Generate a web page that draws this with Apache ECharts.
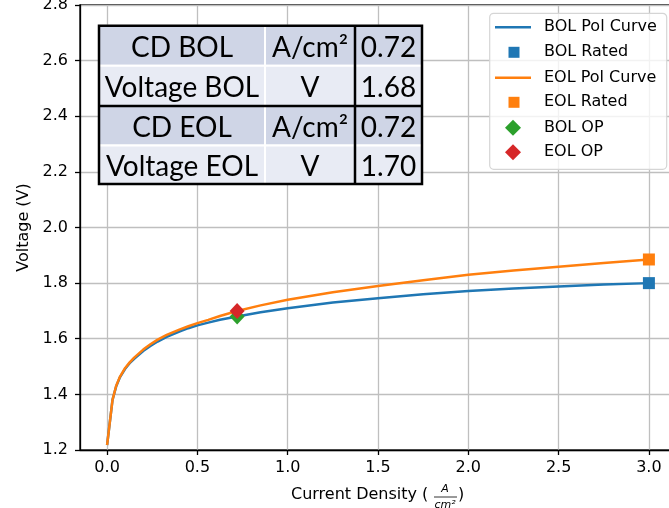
<!DOCTYPE html>
<html><head><meta charset="utf-8">
<script src="https://cdn.jsdelivr.net/npm/echarts@6/dist/echarts.min.js"></script>
<style>html,body{margin:0;padding:0;background:#fff}#c{width:669px;height:508px}</style>
</head><body><div id="c"></div>
<script>
// ---- data ----
const currentDensity = [0, 0.03, 0.05, 0.07, 0.1, 0.125, 0.15, 0.2, 0.24, 0.28, 0.33, 0.4, 0.45, 0.5, 0.56, 0.625, 0.72, 0.85, 1.0, 1.25, 1.5, 1.75, 2.0, 2.25, 2.5, 2.75, 3.0];
const bolVoltage     = [1.218, 1.38, 1.428, 1.460, 1.492, 1.512, 1.528, 1.556, 1.574, 1.590, 1.607, 1.626, 1.638, 1.648, 1.658, 1.668, 1.680, 1.695, 1.710, 1.730, 1.746, 1.760, 1.772, 1.781, 1.788, 1.795, 1.800];
const eolVoltage     = [1.218, 1.38, 1.430, 1.462, 1.495, 1.515, 1.532, 1.561, 1.580, 1.597, 1.614, 1.633, 1.645, 1.656, 1.668, 1.682, 1.700, 1.720, 1.740, 1.767, 1.790, 1.810, 1.830, 1.845, 1.859, 1.872, 1.885];
const bolRated = [3.0, 1.80];
const eolRated = [3.0, 1.885];
const bolOP = [0.72, 1.68];
const eolOP = [0.72, 1.70];
const xTicks = [0, 0.5, 1.0, 1.5, 2.0, 2.5, 3.0];
const seriesNames = ['BOL Pol Curve', 'BOL Rated', 'EOL Pol Curve', 'EOL Rated', 'BOL OP', 'EOL OP'];
const tableLabels = ['CD BOL', 'Voltage BOL', 'CD EOL', 'Voltage EOL'];
const tableUnits  = ['A/cm²', 'V', 'A/cm²', 'V'];
const tableValues = ['0.72', '1.68', '0.72', '1.70'];

const BLUE = '#1f77b4', ORANGE = '#ff7f0e', GREEN = '#2ca02c', RED = '#d62728';
const FONT = 'DejaVu Sans';

const bolData = currentDensity.map((x, i) => [x, bolVoltage[i]]);
const eolData = currentDensity.map((x, i) => [x, eolVoltage[i]]);

// ---- table graphic ----
const rowY = [25.7, 65.7, 106, 145.5, 184];
const colX = [99, 265, 355, 422];
const tableEls = [];
for (let r = 0; r < 4; r++) {
  const fill = (r % 2 === 0) ? '#cfd5e6' : '#e8ebf4';
  const texts = [tableLabels[r], tableUnits[r], tableValues[r]];
  for (let c = 0; c < 3; c++) {
    tableEls.push({
      type: 'rect', shape: {x: colX[c], y: rowY[r], width: colX[c+1]-colX[c], height: rowY[r+1]-rowY[r]},
      style: {fill: fill, stroke: '#ffffff', lineWidth: 2}, z: 10
    });
    tableEls.push({
      type: 'text', x: (colX[c]+colX[c+1])/2, y: (rowY[r]+rowY[r+1])/2 + 2,
      style: {text: texts[c], fill: '#000', font: '28px Lato', align: 'center', verticalAlign: 'middle'}, z: 11
    });
  }
}
tableEls.push({type: 'rect', shape: {x: colX[0], y: rowY[0], width: colX[3]-colX[0], height: rowY[4]-rowY[0]},
  style: {fill: 'none', stroke: '#000', lineWidth: 2.5}, z: 12});
tableEls.push({type: 'line', shape: {x1: colX[0], y1: rowY[2], x2: colX[3], y2: rowY[2]},
  style: {stroke: '#000', lineWidth: 2.5}, z: 12});
tableEls.push({type: 'line', shape: {x1: colX[2], y1: rowY[0], x2: colX[2], y2: rowY[4]},
  style: {stroke: '#000', lineWidth: 2.5}, z: 12});

// ---- legends (one per entry, matplotlib-like layout) ----
const legendRowsY = [27.3, 52.3, 77.7, 102.3, 127.7, 152.3];
const legendSpec = [
  {icon: 'rect', w: 36, h: 2.5, left: 495, color: BLUE},
  {icon: 'rect', w: 11, h: 11, left: 508.5, color: BLUE},
  {icon: 'rect', w: 36, h: 2.5, left: 495, color: ORANGE},
  {icon: 'rect', w: 11, h: 11, left: 508.5, color: ORANGE},
  {icon: 'diamond', w: 16, h: 16, left: 505, color: GREEN},
  {icon: 'diamond', w: 16, h: 16, left: 505, color: RED}
];
const legends = seriesNames.map((name, i) => {
  const s = legendSpec[i];
  const textStart = s.left + s.w + 5;
  const pad = Math.max(0, 544 - textStart);
  return {
    data: [{name: name, icon: s.icon, itemStyle: {color: s.color, opacity: 1}}],
    orient: 'vertical', left: s.left, top: legendRowsY[i] - 8, padding: 0,
    itemWidth: s.w, itemHeight: s.h, symbolKeepAspect: false, selectedMode: false, z: 20,
    formatter: '{g|}{n|' + name + '}',
    textStyle: {rich: {g: {width: pad}, n: {fontFamily: FONT, fontSize: 16, color: '#000', lineHeight: 16}}}
  };
});

const graphics = tableEls.concat([
  {type: 'rect', shape: {x: 489.7, y: 13.3, width: 177, height: 156, r: 4},
   style: {fill: 'rgba(255,255,255,0.8)', stroke: '#d5d5d5', lineWidth: 1.2}, z: 15},
  {type: 'text', x: 291, y: 495, style: {text: 'Current Density (', font: '16px "DejaVu Sans"', fill: '#000', verticalAlign: 'middle'}, z: 10},
  {type: 'text', x: 445, y: 489, style: {text: 'A', font: 'italic 11px "DejaVu Sans"', fill: '#000', align: 'center', verticalAlign: 'middle'}, z: 10},
  {type: 'line', shape: {x1: 434, y1: 497, x2: 457, y2: 497}, style: {stroke: '#000', lineWidth: 0.8}, z: 10},
  {type: 'text', x: 445, y: 505, style: {text: 'cm²', font: 'italic 11px "DejaVu Sans"', fill: '#000', align: 'center', verticalAlign: 'middle'}, z: 10},
  {type: 'text', x: 458, y: 495, style: {text: ')', font: '16px "DejaVu Sans"', fill: '#000', verticalAlign: 'middle'}, z: 10}
]);

const chart = echarts.init(document.getElementById('c'), null, {renderer: 'canvas'});
chart.setOption({
  animation: false,
  backgroundColor: '#fff',
  grid: {left: 80, top: 5, width: 596, height: 445, outerBoundsMode: 'none', containLabel: false,
         show: true, borderColor: '#000', borderWidth: 1.3, backgroundColor: 'transparent'},
  xAxis: {
    type: 'value', min: -0.15, max: 3.15,
    axisLine: {show: true, onZero: false, lineStyle: {color: '#000', width: 1.3}},
    axisTick: {show: true, length: 5, lineStyle: {color: '#000', width: 1.3}, customValues: xTicks},
    axisLabel: {customValues: xTicks, formatter: v => v.toFixed(1), color: '#000', fontFamily: FONT, fontSize: 16, margin: 10},
    splitLine: {show: true, lineStyle: {color: '#bfbfbf', width: 1.3}}
  },
  yAxis: {
    type: 'value', min: 1.2, max: 2.8, interval: 0.2,
    name: 'Voltage (V)', nameLocation: 'middle', nameGap: 43,
    nameTextStyle: {color: '#000', fontFamily: FONT, fontSize: 16},
    axisLine: {show: true, onZero: false, lineStyle: {color: '#000', width: 1.3}},
    axisTick: {show: true, length: 5, lineStyle: {color: '#000', width: 1.3}},
    axisLabel: {formatter: v => v.toFixed(1), color: '#000', fontFamily: FONT, fontSize: 16, margin: 12},
    splitLine: {show: true, lineStyle: {color: '#bfbfbf', width: 1.3}}
  },
  legend: legends,
  graphic: graphics,
  series: [
    {name: seriesNames[0], type: 'line', data: bolData, symbol: 'none', smooth: false,
     lineStyle: {color: BLUE, width: 2.5}, itemStyle: {color: BLUE}, z: 3},
    {name: seriesNames[1], type: 'scatter', data: [bolRated], symbol: 'rect', symbolSize: 12, itemStyle: {color: BLUE, opacity: 1}, z: 4},
    {name: seriesNames[2], type: 'line', data: eolData, symbol: 'none', smooth: false,
     lineStyle: {color: ORANGE, width: 2.5}, itemStyle: {color: ORANGE}, z: 3},
    {name: seriesNames[3], type: 'scatter', data: [eolRated], symbol: 'rect', symbolSize: 12, itemStyle: {color: ORANGE, opacity: 1}, z: 4},
    {name: seriesNames[4], type: 'scatter', data: [bolOP], symbol: 'diamond', symbolSize: [15, 16], itemStyle: {color: GREEN, opacity: 1}, z: 5},
    {name: seriesNames[5], type: 'scatter', data: [eolOP], symbol: 'diamond', symbolSize: [15, 16], itemStyle: {color: RED, opacity: 1}, z: 6}
  ]
});
</script></body></html>
